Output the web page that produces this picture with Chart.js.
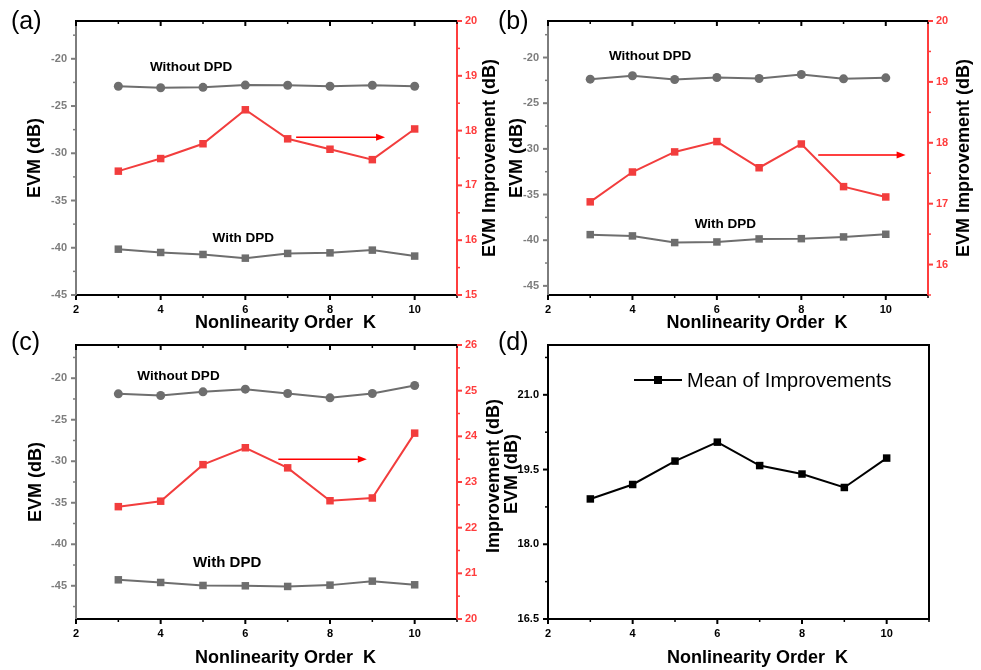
<!DOCTYPE html>
<html><head><meta charset="utf-8">
<script src="https://cdn.jsdelivr.net/npm/chart.js@4/dist/chart.umd.min.js"></script>
<style>
html,body{margin:0;padding:0;background:#fff;}
#wrap{position:relative;width:981px;height:670px;overflow:hidden;background:#fff;}
canvas{position:absolute;left:0;top:0;}
</style></head><body>
<div id="wrap">
<canvas id="ca" width="981" height="670"></canvas>
<canvas id="cb" width="981" height="670"></canvas>
<canvas id="cc" width="981" height="670"></canvas>
<canvas id="cd" width="981" height="670"></canvas>
</div>
<script>
// ---------------- data ----------------
const orders = [3, 4, 5, 6, 7, 8, 9, 10];
const xTicks = [2, 4, 6, 8, 10];

const withoutA = [-22.90, -23.06, -23.02, -22.78, -22.80, -22.90, -22.80, -22.90];
const withA    = [-40.15, -40.50, -40.71, -41.10, -40.60, -40.54, -40.25, -40.88];
const impA     = [17.26, 17.49, 17.76, 18.38, 17.85, 17.66, 17.47, 18.03];

const withoutB = [-22.37, -22.00, -22.40, -22.19, -22.30, -21.86, -22.33, -22.22];
const withB    = [-39.39, -39.53, -40.26, -40.19, -39.86, -39.83, -39.64, -39.35];
const impB     = [17.03, 17.52, 17.85, 18.02, 17.59, 17.98, 17.28, 17.11];

const withoutC = [-21.88, -22.08, -21.64, -21.32, -21.84, -22.36, -21.84, -20.88];
const withC    = [-44.28, -44.60, -44.96, -45.00, -45.08, -44.92, -44.44, -44.88];
const impC     = [22.46, 22.58, 23.38, 23.75, 23.31, 22.59, 22.65, 24.07];

const meanD    = [18.91, 19.20, 19.67, 20.05, 19.58, 19.41, 19.14, 19.73];

const evmTicksA = [-45, -40, -35, -30, -25, -20];
const evmTicksB = [-45, -40, -35, -30, -25, -20];
const evmTicksC = [-45, -40, -35, -30, -25, -20];
const impTicksA = [15, 16, 17, 18, 19, 20];
const impTicksB = [16, 17, 18, 19, 20];
const impTicksC = [20, 21, 22, 23, 24, 25, 26];
const meanTicksD = [16.5, 18.0, 19.5, 21.0];

const labelWithout = 'Without DPD';
const labelWith = 'With DPD';
const labelMean = 'Mean of Improvements';
const xTitle = 'Nonlinearity Order  K';

// ---------------- helpers ----------------
const W = 981, H = 670;
const FONT = '"Liberation Sans", Arial, sans-serif';
const GRAY = '#6e6e6e';
const AXGRAY = '#7d7d7d';
const RED = '#f23d3d';
const AXRED = '#ff3d3d';

function pts(vals) { return orders.map((k, i) => ({ x: k, y: vals[i] })); }
function minorOf(majors, min, max) {
  const st = majors[1] - majors[0];
  const out = [];
  for (let v = majors[0] - st / 2; v <= max + 1e-9; v += st) {
    if (v >= min - 1e-9 && !majors.some(m => Math.abs(m - v) < 1e-9)) out.push(v);
  }
  return out;
}

function makeDecor(o) {
  return {
    id: 'decor_' + o.id,
    afterDraw(chart) {
      const ctx = chart.ctx, ca = chart.chartArea;
      const sx = chart.scales.x, sy = chart.scales.y, sy1 = chart.scales.y1;
      ctx.save();
      const line = (x1, y1, x2, y2, c, w) => {
        ctx.beginPath(); ctx.strokeStyle = c; ctx.lineWidth = w;
        ctx.moveTo(x1, y1); ctx.lineTo(x2, y2); ctx.stroke();
      };
      // top border and (optional) right border
      line(ca.left - 1, ca.top, ca.right + (o.right ? 0 : 1), ca.top, '#000', 2);
      if (!o.right) line(ca.right, ca.top, ca.right, ca.bottom + 1, '#000', 2);
      // x ticks
      const xMinor = minorOf(xTicks, 2, 11);
      xTicks.forEach(v => {
        const p = sx.getPixelForValue(v);
        line(p, ca.bottom, p, ca.bottom + 5, '#000', 2);
        if (o.topTicks) line(p, ca.top, p, ca.top + 5, '#000', 2);
      });
      xMinor.forEach(v => {
        const p = sx.getPixelForValue(v);
        line(p, ca.bottom, p, ca.bottom + 3, '#000', 1.5);
        if (o.topTicks) line(p, ca.top, p, ca.top + 3, '#000', 1.5);
      });
      // left ticks
      o.left.ticks.forEach(v => { const p = sy.getPixelForValue(v); line(ca.left, p, ca.left - 5, p, o.left.color, 2); });
      minorOf(o.left.ticks, o.left.min, o.left.max).forEach(v => { const p = sy.getPixelForValue(v); line(ca.left, p, ca.left - 3, p, o.left.color, 1.5); });
      // right ticks
      if (o.right) {
        o.right.ticks.forEach(v => { const p = sy1.getPixelForValue(v); line(ca.right, p, ca.right + 5, p, AXRED, 2); });
        minorOf(o.right.ticks, o.right.min, o.right.max).forEach(v => { const p = sy1.getPixelForValue(v); line(ca.right, p, ca.right + 3, p, AXRED, 1.5); });
      }
      // titles
      ctx.fillStyle = '#000';
      ctx.font = 'bold 18px ' + FONT;
      ctx.textAlign = 'center'; ctx.textBaseline = 'middle';
      ctx.fillText(xTitle, (ca.left + ca.right) / 2 + 19, ca.bottom + o.xTitleDy);
      const vtext = (t, x, y) => { ctx.save(); ctx.translate(x, y); ctx.rotate(-Math.PI / 2); ctx.fillText(t, 0, 0); ctx.restore(); };
      vtext(o.left.title, ca.left - o.left.titleDx, (ca.top + ca.bottom) / 2 + (o.left.titleDy || 0));
      if (o.right) vtext(o.right.title, ca.right + o.right.titleDx, (ca.top + ca.bottom) / 2 + (o.right.titleDy || 0));
      // panel letter
      ctx.font = '25px ' + FONT; ctx.textAlign = 'left';
      ctx.fillText(o.letter, o.letterPos[0], o.letterPos[1]);
      // inline labels
      (o.labels || []).forEach(l => {
        ctx.font = 'bold ' + l.size + 'px ' + FONT; ctx.textAlign = 'center';
        ctx.fillText(l.text, sx.getPixelForValue(l.x), sy.getPixelForValue(l.y));
      });
      // arrow
      if (o.arrow) {
        const x1 = sx.getPixelForValue(o.arrow.x1), x2 = sx.getPixelForValue(o.arrow.x2), y = sy1.getPixelForValue(o.arrow.y);
        line(x1, y, x2 - 6, y, '#ff0000', 1.5);
        ctx.beginPath(); ctx.fillStyle = '#ff0000';
        ctx.moveTo(x2, y); ctx.lineTo(x2 - 9, y - 3.5); ctx.lineTo(x2 - 9, y + 3.5); ctx.closePath(); ctx.fill();
      }
      // legend
      if (o.legend) {
        const lx = ca.left + 86, ly = ca.top + 35;
        line(lx, ly, lx + 48, ly, '#000', 2);
        ctx.fillStyle = '#000'; ctx.fillRect(lx + 24 - 4, ly - 4, 8, 8);
        ctx.font = '20px ' + FONT; ctx.textAlign = 'left'; ctx.textBaseline = 'middle';
        ctx.fillText(chart.data.datasets[0].label, lx + 53, ly + 1);
      }
      ctx.restore();
    }
  };
}

function makeChart(o) {
  const A = o.area;
  const tickFont = { family: FONT, size: 11, weight: 'bold' };
  const scales = {
    x: {
      type: 'linear', position: 'bottom', min: 2, max: 11,
      afterBuildTicks: s => { s.ticks = xTicks.map(v => ({ value: v })); },
      afterFit: s => { s.height = H - A.b; },
      grid: { display: false, drawTicks: false },
      border: { display: true, color: '#000', width: 2 },
      ticks: { padding: 8, color: '#000', font: tickFont, callback: v => String(v) }
    },
    y: {
      type: 'linear', position: 'left', min: o.left.min, max: o.left.max,
      afterBuildTicks: s => { s.ticks = o.left.ticks.map(v => ({ value: v })); },
      afterFit: s => { s.width = A.l; },
      grid: { display: false, drawTicks: false },
      border: { display: true, color: o.left.color, width: 2 },
      ticks: { padding: 9, color: o.left.color, font: tickFont, callback: v => v.toFixed(o.left.dec) }
    }
  };
  if (o.right) {
    scales.y1 = {
      type: 'linear', position: 'right', min: o.right.min, max: o.right.max,
      afterBuildTicks: s => { s.ticks = o.right.ticks.map(v => ({ value: v })); },
      afterFit: s => { s.width = W - A.r; },
      grid: { display: false, drawTicks: false },
      border: { display: true, color: AXRED, width: 2 },
      ticks: { padding: 8, color: AXRED, font: tickFont, callback: v => String(v) }
    };
  }
  return new Chart(document.getElementById(o.id), {
    type: 'line',
    data: { datasets: o.datasets },
    options: {
      responsive: false, animation: false, devicePixelRatio: 1,
      layout: { padding: { left: 0, top: A.t, right: o.right ? 0 : W - A.r, bottom: 0 } },
      plugins: { legend: { display: false }, tooltip: { enabled: false } },
      scales
    },
    plugins: [makeDecor(o)]
  });
}

function evmSets(wo, wi, imp) {
  return [
    { label: labelWithout, data: pts(wo), yAxisID: 'y', borderColor: GRAY, backgroundColor: GRAY, borderWidth: 2, pointStyle: 'circle', pointRadius: 4.5, pointBorderWidth: 0, tension: 0 },
    { label: labelWith, data: pts(wi), yAxisID: 'y', borderColor: GRAY, backgroundColor: GRAY, borderWidth: 2, pointStyle: 'rect', pointRadius: 5.3, pointBorderWidth: 0, tension: 0 },
    { label: 'EVM Improvement', data: pts(imp), yAxisID: 'y1', borderColor: RED, backgroundColor: RED, borderWidth: 2, pointStyle: 'rect', pointRadius: 5.3, pointBorderWidth: 0, tension: 0 }
  ];
}

makeChart({
  id: 'ca', area: { l: 76, r: 457, t: 21, b: 295 }, xTitleDy: 28, topTicks: true,
  left: { min: -45, max: -16, ticks: evmTicksA, color: AXGRAY, dec: 0, title: 'EVM (dB)', titleDx: 41 },
  right: { min: 15, max: 20, ticks: impTicksA, title: 'EVM Improvement (dB)', titleDx: 33 },
  datasets: evmSets(withoutA, withA, impA),
  labels: [{ text: labelWithout, x: 4.72, y: -20.87, size: 13.5 }, { text: labelWith, x: 5.95, y: -38.97, size: 13.5 }],
  arrow: { x1: 7.2, x2: 9.3, y: 17.88 },
  letter: '(a)', letterPos: [11, 22]
});
makeChart({
  id: 'cb', area: { l: 548, r: 928, t: 21, b: 295 }, xTitleDy: 28, topTicks: true,
  left: { min: -46, max: -16, ticks: evmTicksB, color: AXGRAY, dec: 0, title: 'EVM (dB)', titleDx: 31 },
  right: { min: 15.5, max: 20, ticks: impTicksB, title: 'EVM Improvement (dB)', titleDx: 36 },
  datasets: evmSets(withoutB, withB, impB),
  labels: [{ text: labelWithout, x: 4.42, y: -19.83, size: 13.5 }, { text: labelWith, x: 6.2, y: -38.23, size: 13.5 }],
  arrow: { x1: 8.4, x2: 10.47, y: 17.8 },
  letter: '(b)', letterPos: [498, 22]
});
makeChart({
  id: 'cc', area: { l: 76, r: 457, t: 345, b: 619 }, xTitleDy: 39, topTicks: true,
  left: { min: -49, max: -16, ticks: evmTicksC, color: AXGRAY, dec: 0, title: 'EVM (dB)', titleDx: 40 },
  right: { min: 20, max: 26, ticks: impTicksC, title: 'Improvement (dB)', titleDx: 37, titleDy: -6 },
  datasets: evmSets(withoutC, withC, impC),
  labels: [{ text: labelWithout, x: 4.42, y: -19.73, size: 13.5 }, { text: labelWith, x: 5.57, y: -42.26, size: 15 }],
  arrow: { x1: 6.78, x2: 8.87, y: 23.5 },
  letter: '(c)', letterPos: [11, 343]
});
makeChart({
  id: 'cd', area: { l: 548, r: 929, t: 345, b: 619 }, xTitleDy: 39, topTicks: false, legend: true,
  left: { min: 16.5, max: 22, ticks: meanTicksD, color: '#000', dec: 1, title: 'EVM (dB)', titleDx: 36, titleDy: -8 },
  right: null,
  datasets: [{ label: labelMean, data: pts(meanD), yAxisID: 'y', borderColor: '#000', backgroundColor: '#000', borderWidth: 2, pointStyle: 'rect', pointRadius: 5.3, pointBorderWidth: 0, tension: 0 }],
  letter: '(d)', letterPos: [498, 343]
});
</script>
</body></html>
